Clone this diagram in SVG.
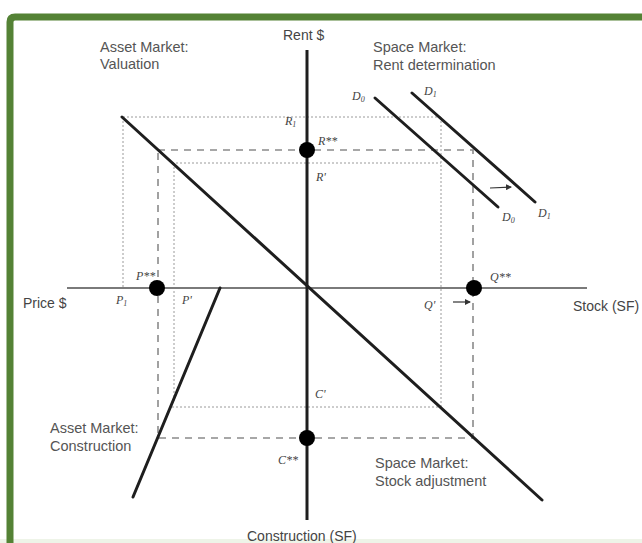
<svg xmlns="http://www.w3.org/2000/svg" width="642" height="543" viewBox="0 0 642 543">
<defs>
<style>
.lbl{font-family:"Liberation Sans",Arial,sans-serif;font-size:14.5px;fill:#555}
.ax{font-family:"Liberation Sans",Arial,sans-serif;font-size:14px;fill:#444}
.m{font-family:"Liberation Serif","Times New Roman",serif;font-style:italic;font-size:12px;fill:#444}
.sub{font-size:8px}
.dot{stroke:#9a9a9a;stroke-width:1;stroke-dasharray:2 2;fill:none}
.dash{stroke:#8a8a8a;stroke-width:1.6;stroke-dasharray:7 6;fill:none}
.curve{stroke:#1e1e1e;stroke-width:3;fill:none;stroke-linecap:round}
.pt{fill:#000}
</style>
<marker id="ah" viewBox="0 0 6 6" refX="5" refY="3" markerWidth="5" markerHeight="5" orient="auto">
<path d="M0,0 L6,3 L0,6 z" fill="#333"/>
</marker>
</defs>
<rect width="642" height="543" fill="#ffffff"/>
<rect x="0" y="539" width="642" height="4" fill="#eef4e8"/>
<path d="M10,543 L10,22 Q10,17 15,17 L642,17" fill="none" stroke="#548235" stroke-width="7"/>

<g id="guides">
<path class="dot" d="M123,117 V288 M123,117 H441 M441,117 V407 M172,163 H441 M174,163 V402 M172,407 H438"/>
<path class="dash" d="M158,150 H473 V438 H158 Z"/>
</g>

<g id="axes">
<line x1="67" y1="288" x2="587" y2="288" stroke="#7a7a7a" stroke-width="2"/>
<line x1="307" y1="50" x2="307" y2="520" stroke="#1e1e1e" stroke-width="3"/>
</g>

<g id="connectors">
<line class="curve" x1="122" y1="117" x2="542" y2="500"/>
<line class="curve" x1="220" y1="288" x2="133" y2="497"/>
<line class="curve" x1="375" y1="98" x2="498" y2="207"/>
<line class="curve" x1="412" y1="93" x2="535" y2="202"/>
<line x1="490" y1="188" x2="511" y2="187" stroke="#333" stroke-width="1.2" marker-end="url(#ah)"/>
<line x1="453" y1="302" x2="470" y2="302" stroke="#333" stroke-width="1.2" marker-end="url(#ah)"/>
</g>

<g id="points">
<circle class="pt" cx="307" cy="150" r="8"/>
<circle class="pt" cx="157" cy="288" r="8"/>
<circle class="pt" cx="474" cy="288" r="8"/>
<circle class="pt" cx="307" cy="438" r="8"/>
</g>

<g id="labels">
<text class="ax" x="283" y="40">Rent $</text>
<text class="ax" x="23" y="308">Price $</text>
<text class="ax" x="573" y="311">Stock (SF)</text>
<text class="ax" x="247" y="541">Construction (SF)</text>
<text class="lbl" x="100" y="52">Asset Market:</text>
<text class="lbl" x="100" y="69">Valuation</text>
<text class="lbl" x="373" y="52">Space Market:</text>
<text class="lbl" x="373" y="70">Rent determination</text>
<text class="lbl" x="50" y="433">Asset Market:</text>
<text class="lbl" x="50" y="451">Construction</text>
<text class="lbl" x="375" y="468">Space Market:</text>
<text class="lbl" x="375" y="486">Stock adjustment</text>
</g>

<g id="math">
<text class="m" x="285" y="125">R<tspan class="sub" dy="2">1</tspan></text>
<text class="m" x="318" y="145">R**</text>
<text class="m" x="316" y="181">R'</text>
<text class="m" x="116" y="304">P<tspan class="sub" dy="2">1</tspan></text>
<text class="m" x="136" y="280">P**</text>
<text class="m" x="182" y="304">P'</text>
<text class="m" x="424" y="309">Q'</text>
<text class="m" x="490" y="281">Q**</text>
<text class="m" x="315" y="398">C'</text>
<text class="m" x="278" y="464">C**</text>
<text class="m" x="352" y="100">D<tspan class="sub" dy="2">0</tspan></text>
<text class="m" x="424" y="95">D<tspan class="sub" dy="2">1</tspan></text>
<text class="m" x="502" y="221">D<tspan class="sub" dy="2">0</tspan></text>
<text class="m" x="538" y="217">D<tspan class="sub" dy="2">1</tspan></text>
</g>
</svg>
